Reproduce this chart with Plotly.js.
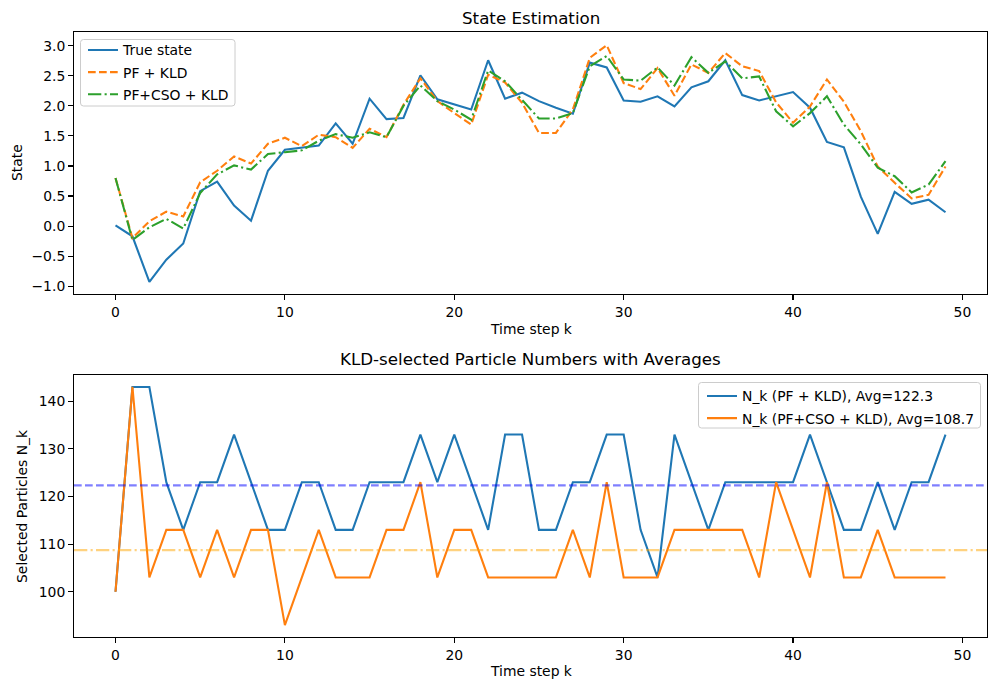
<!DOCTYPE html>
<html>
<head>
<meta charset="utf-8">
<script src="https://cdn.plot.ly/plotly-3.0.1.min.js"></script>
<style>html,body{margin:0;padding:0;background:#fff;}#chart{width:996px;height:690px;}</style>
</head>
<body>
<div id="chart"></div>
<script>
// ---- data ----
var timeSteps = [0,1,2,3,4,5,6,7,8,9,10,11,12,13,14,15,16,17,18,19,20,21,22,23,24,25,26,27,28,29,30,31,32,33,34,35,36,37,38,39,40,41,42,43,44,45,46,47,48,49];
var trueState = [0.01,-0.17,-0.93,-0.56,-0.29,0.58,0.74,0.34,0.09,0.92,1.27,1.31,1.34,1.71,1.37,2.12,1.78,1.80,2.51,2.11,2.03,1.94,2.76,2.12,2.22,2.08,1.97,1.87,2.72,2.64,2.09,2.07,2.16,1.99,2.31,2.41,2.76,2.18,2.09,2.16,2.23,1.97,1.40,1.31,0.49,-0.13,0.57,0.37,0.44,0.23];
var pfKld = [0.80,-0.20,0.08,0.24,0.16,0.73,0.92,1.16,1.04,1.37,1.47,1.33,1.52,1.48,1.30,1.62,1.48,2.02,2.46,2.08,1.88,1.69,2.52,2.39,2.05,1.55,1.55,1.94,2.80,3.01,2.38,2.28,2.63,2.17,2.69,2.55,2.88,2.66,2.58,2.06,1.72,1.99,2.44,2.07,1.58,0.99,0.72,0.46,0.52,0.99];
var pfCsoKld = [0.80,-0.23,-0.02,0.12,-0.04,0.55,0.86,1.01,0.94,1.20,1.23,1.26,1.42,1.53,1.47,1.56,1.48,2.00,2.34,2.08,1.94,1.77,2.59,2.41,2.10,1.79,1.79,1.88,2.66,2.83,2.44,2.42,2.64,2.34,2.81,2.55,2.74,2.46,2.49,1.91,1.66,1.88,2.16,1.69,1.36,0.97,0.83,0.56,0.69,1.08];
var nkPfKld = [100,143,143,123,113,123,123,133,123,113,113,123,123,113,113,123,123,123,133,123,133,123,113,133,133,113,113,123,123,133,133,113,103,133,123,113,123,123,123,123,123,133,123,113,113,123,113,123,123,133];
var nkPfCsoKld = [100,143,103,113,113,103,113,103,113,113,93,103,113,103,103,103,113,113,123,103,113,113,103,103,103,103,103,113,103,123,103,103,103,113,113,113,113,113,103,123,113,103,123,103,103,113,103,103,103,103];
var xTicks = [0,10,20,30,40,50];
var stateTicks = [-1.0,-0.5,0.0,0.5,1.0,1.5,2.0,2.5,3.0];
var nkTicks = [100,110,120,130,140];

function mean(a){var s=0;for(var i=0;i<a.length;i++)s+=a[i];return s/a.length;}
var avgPf = mean(nkPfKld);
var avgCso = mean(nkPfCsoKld);

var C_BLUE='#1f77b4', C_ORANGE='#ff7f0e', C_GREEN='#2ca02c';
var LW=2.08;
var FONT='DejaVu Sans, sans-serif';

var traces = [
  {x:timeSteps,y:trueState,type:'scatter',mode:'lines',name:'True state',line:{color:C_BLUE,width:LW},xaxis:'x',yaxis:'y',legend:'legend',legendgroup:'a'},
  {x:timeSteps,y:pfKld,type:'scatter',mode:'lines',name:'PF + KLD',line:{color:C_ORANGE,width:LW,dash:'7.7px,3.3px'},xaxis:'x',yaxis:'y',legend:'legend',legendgroup:'b'},
  {x:timeSteps,y:pfCsoKld,type:'scatter',mode:'lines',name:'PF+CSO + KLD',line:{color:C_GREEN,width:LW,dash:'13.3px,3.3px,2.1px,3.3px'},xaxis:'x',yaxis:'y',legend:'legend',legendgroup:'c'},
  {x:timeSteps,y:nkPfKld,type:'scatter',mode:'lines',name:'N_k (PF + KLD), Avg='+avgPf.toFixed(1),line:{color:C_BLUE,width:LW},xaxis:'x2',yaxis:'y2',legend:'legend2',legendgroup:'d'},
  {x:timeSteps,y:nkPfCsoKld,type:'scatter',mode:'lines',name:'N_k (PF+CSO + KLD), Avg='+avgCso.toFixed(1),line:{color:C_ORANGE,width:LW},xaxis:'x2',yaxis:'y2',legend:'legend2',legendgroup:'e'}
];

var axBase = {showline:true,mirror:true,linecolor:'#000',linewidth:1.1,ticks:'outside',ticklen:4.9,tickwidth:1.1,tickcolor:'#000',showgrid:false,zeroline:false,tickfont:{family:FONT,size:13.9,color:'#000'}};
function ax(o){var r={};for(var k in axBase)r[k]=axBase[k];for(var k2 in o)r[k2]=o[k2];return r;}

var legBase = {font:{family:FONT,size:13.9,color:'#000'},bgcolor:'rgba(0,0,0,0)',borderwidth:0,itemwidth:30,traceorder:'grouped',tracegroupgap:1};

// pixel -> paper helpers (plot area: x 74..987, y 32..637)
function px(v){return (v-74)/913;}
function py(v){return (637-v)/605;}
function roundRect(x0,y0,x1,y1,r){
  var rx=r/913, ry=r/605;
  var a=px(x0), b=px(x1), t=py(y0), u=py(y1);
  return 'M'+(a+rx)+','+t+' L'+(b-rx)+','+t+' Q'+b+','+t+' '+b+','+(t-ry)+
         ' L'+b+','+(u+ry)+' Q'+b+','+u+' '+(b-rx)+','+u+
         ' L'+(a+rx)+','+u+' Q'+a+','+u+' '+a+','+(u+ry)+
         ' L'+a+','+(t-ry)+' Q'+a+','+t+' '+(a+rx)+','+t+' Z';
}

var layout = {
  width:996,height:690,
  margin:{l:74,r:9,t:32,b:53},
  paper_bgcolor:'#fff',plot_bgcolor:'#fff',
  font:{family:FONT,size:13.9,color:'#000'},
  xaxis: ax({domain:[0,1],anchor:'y',range:[-2.45,51.45],tickvals:xTicks}),
  yaxis: ax({domain:[0.567,1],anchor:'x',range:[-1.13,3.23],tickvals:stateTicks,tickformat:'.1f'}),
  xaxis2: ax({domain:[0,1],anchor:'y2',range:[-2.45,51.45],tickvals:xTicks}),
  yaxis2: ax({domain:[0,0.433],anchor:'x2',range:[90.5,145.5],tickvals:nkTicks}),
  legend: Object.assign({},legBase,{x:px(83),y:py(34.5),xanchor:'left',yanchor:'top'}),
  legend2: Object.assign({},legBase,{x:px(702),y:py(380.5),xanchor:'left',yanchor:'top'}),
  shapes:[
    {type:'line',xref:'x2 domain',x0:0,x1:1,yref:'y2',y0:avgPf,y1:avgPf,line:{color:'rgba(0,0,255,0.5)',width:LW,dash:'7.7px,3.3px'}},
    {type:'line',xref:'x2 domain',x0:0,x1:1,yref:'y2',y0:avgCso,y1:avgCso,line:{color:'rgba(255,165,0,0.5)',width:LW,dash:'13.3px,3.3px,2.1px,3.3px'}},
    {type:'path',xref:'paper',yref:'paper',path:roundRect(80.5,39.5,235,106,3),fillcolor:'rgba(255,255,255,0.8)',line:{color:'#cccccc',width:1},layer:'above'},
    {type:'path',xref:'paper',yref:'paper',path:roundRect(698.5,382.5,980.5,428,3),fillcolor:'rgba(255,255,255,0.8)',line:{color:'#cccccc',width:1},layer:'above'}
  ],
  annotations:[
    {text:'State Estimation',xref:'paper',yref:'paper',x:0.5,y:1.023,xanchor:'center',yanchor:'middle',showarrow:false,font:{family:FONT,size:16.7,color:'#000'}},
    {text:'KLD-selected Particle Numbers with Averages',xref:'paper',yref:'paper',x:0.5,y:0.4595,xanchor:'center',yanchor:'middle',showarrow:false,font:{family:FONT,size:16.7,color:'#000'}},
    {text:'Time step k',xref:'paper',yref:'paper',x:0.5,y:0.509,xanchor:'center',yanchor:'middle',showarrow:false,font:{family:FONT,size:13.9,color:'#000'}},
    {text:'Time step k',xref:'paper',yref:'paper',x:0.5,y:-0.0562,xanchor:'center',yanchor:'middle',showarrow:false,font:{family:FONT,size:13.9,color:'#000'}},
    {text:'State',xref:'paper',yref:'paper',x:-0.0624,y:0.7835,xanchor:'center',yanchor:'middle',textangle:-90,showarrow:false,font:{family:FONT,size:13.9,color:'#000'}},
    {text:'Selected Particles N_k',xref:'paper',yref:'paper',x:-0.057,y:0.2165,xanchor:'center',yanchor:'middle',textangle:-90,showarrow:false,font:{family:FONT,size:13.9,color:'#000'}}
  ]
};

Plotly.newPlot('chart',traces,layout,{displayModeBar:false,staticPlot:true});
</script>
</body>
</html>
